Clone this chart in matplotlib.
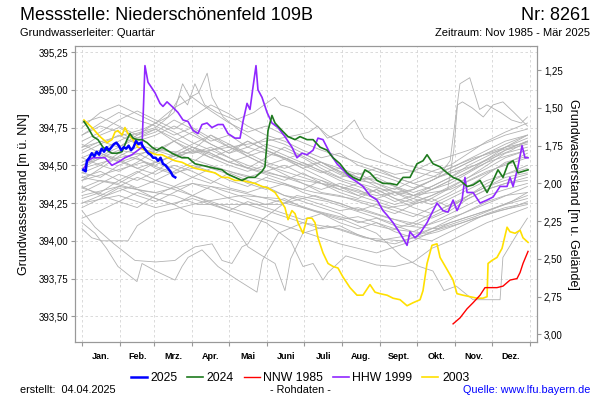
import matplotlib
matplotlib.use('Agg')
import matplotlib.pyplot as plt
from matplotlib.ticker import FixedLocator, FuncFormatter, NullFormatter

plt.rcParams['font.family'] = ['Liberation Sans', 'DejaVu Sans']

# ground level of the well [m NN], used for the right axis
ground = 396.38

months = ['Jan.', 'Feb.', 'Mrz.', 'Apr.', 'Mai', 'Juni', 'Juli', 'Aug.', 'Sept.', 'Okt.', 'Nov.', 'Dez.']
month_starts = [0, 31, 59, 90, 120, 151, 181, 212, 243, 273, 304, 334, 365]

# ---- highlighted years (day of year, level m NN) -------------------------
d2025 = [1, 3, 4, 6, 8, 10, 12, 14, 16, 18, 20, 22, 24, 26, 28, 30, 32, 34, 36, 38,
         40, 42, 44, 46, 48, 50, 52, 54, 56, 58, 60, 62, 64, 66, 68, 70, 72, 74, 76]
v2025 = [394.47, 394.46, 394.53, 394.55, 394.58, 394.56, 394.59, 394.57, 394.61, 394.59,
         394.62, 394.60, 394.62, 394.64, 394.65, 394.63, 394.60, 394.62, 394.61, 394.63,
         394.60, 394.62, 394.66, 394.64, 394.65, 394.62, 394.60, 394.58, 394.57, 394.55,
         394.55, 394.53, 394.55, 394.51, 394.50, 394.48, 394.46, 394.43, 394.42]

d2024 = [1.6, 4.9, 9, 13, 17.1, 20.4, 24.4, 28.5, 32.6, 36.7, 39.1, 41.6, 44.8, 48.9, 53,
         57, 61.1, 65.2, 69.3, 73.3, 75.8, 81.5, 86.4, 92.1, 97.8, 102.7, 108.4, 114.1, 119,
         124.7, 130.4, 135.3, 141, 146.7, 149.1, 151.6, 154.8, 157.3, 163, 167.9, 173.6,
         177.7, 183.4, 188.3, 194, 199.7, 204.6, 210.3, 216, 220.9, 226.6, 230.6, 234.7,
         240.4, 245.3, 251, 256.7, 261.6, 267.3, 273, 277.9, 281.2, 286.1, 291.8, 297.5,
         302.4, 308.1, 313.8, 318.7, 324.4, 330.1, 335, 339, 343.1, 347.2, 351.3, 355.3,
         359.4, 363.5]
v2024 = [394.79, 394.75, 394.69, 394.67, 394.62, 394.60, 394.58, 394.58, 394.59, 394.67,
         394.71, 394.68, 394.67, 394.67, 394.65, 394.62, 394.60, 394.62, 394.60, 394.58,
         394.57, 394.55, 394.55, 394.51, 394.50, 394.49, 394.48, 394.47, 394.44, 394.42,
         394.40, 394.42, 394.42, 394.46, 394.49, 394.73, 394.83, 394.78, 394.73, 394.69,
         394.67, 394.69, 394.67, 394.67, 394.62, 394.60, 394.55, 394.51, 394.45, 394.42,
         394.40, 394.47, 394.45, 394.40, 394.38, 394.38, 394.37, 394.42, 394.42, 394.51,
         394.53, 394.57, 394.51, 394.49, 394.45, 394.42, 394.40, 394.36, 394.37, 394.40,
         394.32, 394.40, 394.47, 394.42, 394.51, 394.53, 394.45, 394.46, 394.47]

d1985 = [302.4, 308.1, 313.8, 318.7, 324.4, 328.4, 332.5, 338.2, 343.1, 348.8, 354.5,
         357, 359.4, 363.5]
v1985 = [393.45, 393.49, 393.55, 393.59, 393.64, 393.69, 393.69, 393.69, 393.70, 393.74,
         393.75, 393.79, 393.85, 393.93]

d1999 = [1.6, 4.9, 9, 18.7, 24.4, 29.3, 35, 40.7, 45.6, 48.9, 51.3, 53.8, 59.5, 63.6, 66,
         69.3, 73.3, 78.2, 82.3, 86.4, 90.5, 94.5, 97.8, 101.9, 105.9, 110.8, 114.9, 119,
         124.7, 128.8, 131.2, 134.5, 136.9, 139.4, 141.8, 143.4, 146.7, 150.8, 154.8, 159.7,
         165.4, 171.1, 175.2, 179.3, 183.4, 188.3, 192.3, 196.4, 202.1, 207.8, 212.7, 218.4,
         224.1, 229, 234.7, 240.4, 245.3, 248.6, 253.5, 259.2, 264.9, 267.3, 271.4, 275.5,
         281.2, 286.1, 289.3, 294.2, 298.3, 302.4, 305.6, 309.7, 312.1, 313.8, 318.7, 324.4,
         330.1, 335, 340.7, 346.4, 348.8, 351.3, 355.3, 358.6, 361, 363.5]
v1999 = [394.48, 394.53, 394.55, 394.55, 394.50, 394.52, 394.55, 394.57, 394.60, 394.62,
         395.16, 395.05, 394.98, 394.91, 394.89, 394.92, 394.89, 394.85, 394.80, 394.79,
         394.73, 394.71, 394.77, 394.78, 394.75, 394.77, 394.77, 394.71, 394.68, 394.68,
         394.79, 394.91, 394.87, 395.02, 395.16, 395.00, 394.95, 394.85, 394.78, 394.75,
         394.69, 394.62, 394.55, 394.58, 394.57, 394.60, 394.68, 394.67, 394.58, 394.51,
         394.47, 394.42, 394.39, 394.36, 394.30, 394.27, 394.20, 394.17, 394.12, 394.05,
         393.97, 394.06, 394.02, 394.05, 394.12, 394.20, 394.25, 394.20, 394.19, 394.27,
         394.20, 394.27, 394.42, 394.32, 394.32, 394.25, 394.27, 394.29, 394.36, 394.36,
         394.42, 394.36, 394.49, 394.63, 394.55, 394.55]

d2003 = [1.6, 8.1, 14.7, 20.4, 24.4, 26.9, 29.3, 32.6, 35, 37.5, 41.6, 45.6, 51.3, 57,
         61.1, 65.2, 70.1, 75.8, 81.5, 86.4, 92.1, 97.8, 102.7, 108.4, 114.1, 119, 124.7,
         130.4, 135.3, 141, 146.7, 151.6, 157.3, 161.4, 165.4, 167.9, 171.1, 173.6, 176,
         180.1, 183.4, 187.4, 189.9, 192.3, 196.4, 200.5, 204.6, 208.6, 212.7, 218.4, 224.1,
         229, 234.7, 238.8, 242.9, 248.6, 253.5, 259.2, 264.9, 269.8, 275.5, 277.9, 281.2,
         285.2, 289.3, 291.8, 297.5, 302.4, 305.6, 310.5, 316.2, 321.9, 326.8, 330.1, 330.9,
         334.1, 338.2, 342.3, 346.4, 348.8, 352.9, 357, 359.4, 363.5]
v2003 = [394.80, 394.75, 394.69, 394.65, 394.67, 394.72, 394.73, 394.70, 394.75, 394.71,
         394.67, 394.62, 394.60, 394.58, 394.57, 394.57, 394.55, 394.53, 394.52, 394.50,
         394.48, 394.47, 394.46, 394.45, 394.42, 394.42, 394.40, 394.40, 394.39, 394.38,
         394.36, 394.35, 394.32, 394.27, 394.22, 394.14, 394.20, 394.18, 394.12, 394.05,
         394.15, 394.15, 394.12, 394.02, 393.92, 393.85, 393.83, 393.82, 393.76, 393.69,
         393.64, 393.64, 393.71, 393.66, 393.65, 393.64, 393.62, 393.61, 393.57, 393.59,
         393.61, 393.67, 393.85, 393.97, 393.98, 393.89, 393.81, 393.74, 393.65, 393.64,
         393.63, 393.62, 393.62, 393.63, 393.85, 393.87, 393.89, 393.95, 394.09, 394.06,
         394.05, 394.07, 394.02, 393.99]

# ---- other years (grey), common 15-day grid -----------------------------
grid_days = [0, 15, 30, 45, 60, 75, 90, 105, 120, 135, 150, 165, 180, 195, 210, 225,
             240, 255, 270, 285, 300, 315, 330, 345, 363]
grey_years = [
    [394.62, 394.70, 394.75, 394.68, 394.72, 394.80, 394.74, 394.66, 394.70, 394.62, 394.58, 394.55, 394.50, 394.52, 394.45, 394.40, 394.42, 394.36, 394.30, 394.34, 394.38, 394.45, 394.52, 394.60, 394.66],
    [394.48, 394.55, 394.60, 394.58, 394.52, 394.56, 394.62, 394.55, 394.50, 394.46, 394.50, 394.44, 394.38, 394.32, 394.30, 394.26, 394.22, 394.18, 394.24, 394.28, 394.22, 394.30, 394.36, 394.42, 394.45],
    [394.70, 394.78, 394.85, 394.80, 394.76, 394.70, 394.75, 394.68, 394.62, 394.58, 394.64, 394.60, 394.55, 394.48, 394.42, 394.45, 394.38, 394.34, 394.40, 394.46, 394.50, 394.58, 394.66, 394.72, 394.78],
    [394.35, 394.40, 394.38, 394.45, 394.52, 394.48, 394.42, 394.38, 394.45, 394.40, 394.35, 394.30, 394.26, 394.22, 394.18, 394.12, 394.15, 394.10, 394.06, 394.12, 394.18, 394.24, 394.30, 394.34, 394.38],
    [394.55, 394.50, 394.46, 394.52, 394.60, 394.66, 394.58, 394.62, 394.55, 394.48, 394.44, 394.40, 394.45, 394.38, 394.32, 394.28, 394.34, 394.28, 394.25, 394.30, 394.35, 394.42, 394.48, 394.55, 394.60],
    [394.22, 394.28, 394.35, 394.30, 394.26, 394.32, 394.38, 394.34, 394.28, 394.24, 394.20, 394.16, 394.12, 394.08, 394.10, 394.04, 394.00, 393.98, 394.02, 394.08, 394.14, 394.20, 394.26, 394.30, 394.32],
    [394.75, 394.85, 394.90, 394.84, 394.78, 394.88, 394.95, 394.86, 394.78, 394.72, 394.76, 394.70, 394.65, 394.60, 394.56, 394.52, 394.48, 394.44, 394.46, 394.52, 394.56, 394.60, 394.65, 394.70, 394.74],
    [394.45, 394.42, 394.50, 394.55, 394.48, 394.44, 394.50, 394.46, 394.40, 394.36, 394.42, 394.38, 394.34, 394.40, 394.36, 394.30, 394.26, 394.22, 394.18, 394.15, 394.20, 394.28, 394.34, 394.38, 394.42],
    [394.60, 394.66, 394.62, 394.70, 394.78, 394.72, 394.65, 394.60, 394.64, 394.58, 394.52, 394.48, 394.52, 394.46, 394.40, 394.36, 394.32, 394.35, 394.30, 394.26, 394.32, 394.40, 394.46, 394.50, 394.55],
    [394.15, 394.20, 394.26, 394.22, 394.30, 394.36, 394.30, 394.25, 394.20, 394.26, 394.22, 394.18, 394.14, 394.18, 394.12, 394.08, 394.12, 394.06, 394.02, 394.00, 394.06, 394.12, 394.18, 394.22, 394.25],
    [394.40, 394.48, 394.56, 394.62, 394.58, 394.66, 394.72, 394.64, 394.58, 394.66, 394.60, 394.55, 394.50, 394.45, 394.48, 394.42, 394.36, 394.30, 394.34, 394.40, 394.46, 394.52, 394.58, 394.62, 394.65],
    [394.52, 394.58, 394.54, 394.48, 394.44, 394.50, 394.46, 394.40, 394.35, 394.32, 394.36, 394.30, 394.28, 394.24, 394.20, 394.22, 394.18, 394.14, 394.10, 394.16, 394.22, 394.30, 394.38, 394.44, 394.50],
    [394.66, 394.72, 394.80, 394.86, 394.80, 394.74, 394.82, 394.90, 394.84, 394.76, 394.70, 394.66, 394.60, 394.55, 394.58, 394.50, 394.46, 394.42, 394.38, 394.42, 394.48, 394.54, 394.60, 394.66, 394.70],
    [394.28, 394.32, 394.40, 394.46, 394.40, 394.36, 394.42, 394.48, 394.44, 394.38, 394.34, 394.38, 394.32, 394.28, 394.25, 394.20, 394.24, 394.20, 394.16, 394.22, 394.28, 394.34, 394.40, 394.44, 394.48],
    [394.58, 394.64, 394.70, 394.64, 394.60, 394.56, 394.62, 394.58, 394.52, 394.48, 394.55, 394.62, 394.56, 394.50, 394.44, 394.40, 394.38, 394.32, 394.28, 394.24, 394.30, 394.36, 394.44, 394.52, 394.56],
    [394.42, 394.46, 394.40, 394.35, 394.40, 394.46, 394.52, 394.60, 394.55, 394.50, 394.46, 394.42, 394.38, 394.34, 394.38, 394.34, 394.28, 394.24, 394.28, 394.34, 394.40, 394.46, 394.52, 394.56, 394.60],
    [394.78, 394.82, 394.76, 394.70, 394.74, 394.68, 394.62, 394.58, 394.52, 394.56, 394.50, 394.46, 394.42, 394.38, 394.34, 394.30, 394.34, 394.28, 394.22, 394.18, 394.24, 394.30, 394.36, 394.40, 394.44],
    [394.32, 394.38, 394.44, 394.40, 394.46, 394.54, 394.60, 394.70, 394.64, 394.56, 394.50, 394.54, 394.48, 394.42, 394.36, 394.32, 394.28, 394.32, 394.26, 394.30, 394.36, 394.42, 394.50, 394.58, 394.62],
    [394.50, 394.56, 394.62, 394.68, 394.74, 394.66, 394.60, 394.55, 394.60, 394.66, 394.60, 394.54, 394.58, 394.52, 394.46, 394.42, 394.40, 394.36, 394.32, 394.36, 394.42, 394.48, 394.54, 394.60, 394.64],
    [394.25, 394.30, 394.36, 394.42, 394.38, 394.34, 394.30, 394.36, 394.32, 394.28, 394.24, 394.28, 394.22, 394.18, 394.14, 394.16, 394.12, 394.08, 394.12, 394.18, 394.24, 394.28, 394.34, 394.38, 394.40],
    [394.64, 394.58, 394.52, 394.56, 394.62, 394.58, 394.54, 394.50, 394.46, 394.42, 394.46, 394.50, 394.44, 394.40, 394.34, 394.38, 394.32, 394.26, 394.30, 394.36, 394.42, 394.50, 394.56, 394.62, 394.68],
    [394.45, 394.50, 394.58, 394.54, 394.50, 394.58, 394.64, 394.70, 394.62, 394.56, 394.60, 394.55, 394.48, 394.52, 394.46, 394.40, 394.44, 394.40, 394.35, 394.40, 394.46, 394.52, 394.58, 394.64, 394.70],
    [394.36, 394.30, 394.26, 394.32, 394.28, 394.24, 394.30, 394.26, 394.22, 394.18, 394.14, 394.10, 394.06, 394.02, 393.98, 393.95, 393.92, 393.96, 394.00, 394.06, 394.12, 394.16, 394.20, 394.24, 394.28],
    [394.70, 394.76, 394.72, 394.66, 394.70, 394.76, 394.70, 394.64, 394.58, 394.62, 394.68, 394.64, 394.58, 394.52, 394.48, 394.44, 394.48, 394.42, 394.38, 394.34, 394.40, 394.46, 394.54, 394.62, 394.70],
]

# grey years that need their own days (peaks, lows, data gaps)
grey_extra = [
    ([0, 20, 45, 70, 95, 120, 150, 180, 210, 240, 270, 290, 300, 305, 308, 316, 319, 324, 330, 341, 350, 358, 363],
     [394.50, 394.56, 394.48, 394.55, 394.60, 394.52, 394.45, 394.40, 394.36, 394.30, 394.34, 394.42, 394.53, 394.85, 395.04, 395.08, 395.00, 394.87, 394.90, 394.85, 394.80, 394.78, 394.82]),
    ([0, 25, 50, 75, 100, 130, 160, 190, 220, 250, 280, 298, 303, 306, 310, 318, 327, 335, 343, 352, 363],
     [394.40, 394.46, 394.52, 394.45, 394.50, 394.44, 394.38, 394.32, 394.28, 394.22, 394.26, 394.34, 394.60, 394.90, 394.92, 394.88, 394.82, 394.90, 394.92, 394.85, 394.76]),
    ([0, 20, 40, 60, 75, 82, 88, 95, 102, 106, 115, 130, 150, 170, 190, 215, 240, 270, 300, 330, 363],
     [394.55, 394.62, 394.70, 394.75, 394.85, 395.04, 394.95, 394.98, 395.11, 394.95, 394.82, 394.72, 394.62, 394.55, 394.48, 394.40, 394.35, 394.30, 394.34, 394.45, 394.58]),
    ([0, 25, 50, 70, 80, 86, 92, 100, 110, 125, 140, 157, 162, 170, 180, 200, 230, 260, 290, 320, 350, 363],
     [394.62, 394.68, 394.74, 394.82, 394.96, 394.90, 395.04, 394.90, 394.85, 394.80, 394.85, 394.95, 394.90, 394.88, 394.84, 394.70, 394.55, 394.48, 394.42, 394.50, 394.60, 394.66]),
    ([0, 30, 60, 90, 120, 150, 175, 185, 192, 200, 212, 222, 230, 245, 265, 290, 320, 350, 363],
     [394.48, 394.55, 394.60, 394.58, 394.62, 394.66, 394.70, 394.72, 394.76, 394.68, 394.72, 394.80, 394.68, 394.58, 394.50, 394.45, 394.55, 394.62, 394.66]),
    ([0, 10.6, 20, 29.3, 44.8, 48.9, 60, 75.8, 81.5, 86.4, 97.8, 110.8, 125, 142.6, 147, 160, 180, 210, 240, 270, 300, 330, 363],
     [394.12, 394.05, 393.95, 393.83, 393.73, 393.85, 393.80, 393.74, 393.83, 393.89, 393.94, 393.83, 393.75, 393.66, 393.87, 394.05, 394.12, 394.08, 394.00, 394.04, 394.12, 394.20, 394.30]),
    ([0, 10.6, 26, 43.2, 60, 75.8, 83.9, 92.1, 106, 114.1, 122.2, 130.4, 135.3, 146.7, 165, 190, 220, 250, 280, 310, 340, 363],
     [394.20, 394.09, 393.98, 393.87, 393.86, 393.87, 393.92, 393.96, 393.98, 393.87, 393.85, 393.96, 393.98, 394.14, 394.25, 394.30, 394.22, 394.15, 394.10, 394.18, 394.28, 394.36]),
    ([0, 20, 40, 60, 75, 89.6, 105, 122.2, 135.3, 147, 157.3, 165.4, 170, 180, 200, 230, 260, 290, 320, 350, 363],
     [394.35, 394.30, 394.36, 394.28, 394.24, 394.18, 394.16, 394.12, 393.96, 393.90, 393.85, 393.67, 393.88, 394.05, 394.10, 394.02, 394.00, 394.06, 394.15, 394.22, 394.26]),
    ([0, 25, 50, 75, 94.5, 163, 175, 200, 230, 260, 290, 320, 350, 363],
     [394.42, 394.38, 394.33, 394.30, 394.24, 394.24, 394.30, 394.26, 394.18, 394.10, 394.08, 394.16, 394.26, 394.32]),
    ([0, 8, 16.3, 37.5, 45, 60, 80, 100, 130, 160, 190, 220, 250, 280, 310, 340, 363],
     [394.08, 394.02, 394.00, 394.00, 394.10, 394.18, 394.22, 394.26, 394.30, 394.28, 394.20, 394.14, 394.08, 394.05, 394.12, 394.20, 394.24]),
    ([0, 30, 60, 90, 120, 150, 180, 210, 240, 260, 275, 286, 295, 305, 318.7, 340.7, 343, 355, 363],
     [394.30, 394.36, 394.32, 394.38, 394.34, 394.28, 394.22, 394.15, 394.05, 393.90, 393.83, 393.80, 393.67, 393.70, 393.61, 393.61, 393.89, 394.05, 394.15]),
    ([0, 30, 60, 90, 120, 150, 170, 180.1, 188.3, 196.4, 200.5, 215, 240, 255, 270, 285, 300, 330, 363],
     [394.25, 394.30, 394.22, 394.28, 394.20, 394.12, 394.00, 393.83, 393.85, 393.74, 393.79, 393.90, 393.84, 393.83, 393.86, 393.95, 394.00, 394.12, 394.22]),
]

yticks = [393.50, 393.75, 394.00, 394.25, 394.50, 394.75, 395.00, 395.25]
yticks_right = [1.25, 1.50, 1.75, 2.00, 2.25, 2.50, 2.75, 3.00]


def comma(v, pos=None):
    return f'{v:.2f}'.replace('.', ',')


fig = plt.figure(figsize=(6, 4), dpi=100)
ax = fig.add_axes([75 / 600, 1 - 342 / 400, 462 / 600, 296 / 400])

grey = '#b2b2b2'
for vals in grey_years:
    ax.plot(grid_days, vals, color=grey, lw=0.6)
for dd, vv in grey_extra:
    ax.plot(dd, vv, color=grey, lw=0.6)

l2003, = ax.plot(d2003, v2003, color='#ffe000', lw=1.2, label='2003')
l1999, = ax.plot(d1999, v1999, color='#9028ff', lw=1.2, label='HHW 1999')
l1985, = ax.plot(d1985, v1985, color='#ff0000', lw=1.0, label='NNW 1985')
l2024, = ax.plot(d2024, v2024, color='#1e7a1e', lw=1.2, label='2024')
l2025, = ax.plot(d2025, v2025, color='#0000ff', lw=1.8, label='2025')

ax.set_xlim(-5.7, 370.8)
ax.set_ylim(393.33, 395.29)

ax.yaxis.set_major_locator(FixedLocator(yticks))
ax.yaxis.set_major_formatter(FuncFormatter(comma))
ax.xaxis.set_major_locator(FixedLocator(month_starts))
ax.xaxis.set_major_formatter(NullFormatter())
mids = [(month_starts[i] + month_starts[i + 1]) / 2 for i in range(12)]
ax.xaxis.set_minor_locator(FixedLocator(mids))
ax.set_xticklabels(months, minor=True)
ax.tick_params(axis='x', which='minor', length=0, pad=7, labelsize=6.5)
for t in ax.get_xticklabels(minor=True):
    t.set_fontweight('bold')
ax.tick_params(axis='x', which='major', length=3, color='#999999')
ax.tick_params(axis='y', length=3, color='#999999', labelsize=7, pad=2)

ax.grid(True, which='major', color='#d4d4d4', lw=0.6, ls=(0, (3, 3)))
for s in ax.spines.values():
    s.set_color('#999999')
    s.set_linewidth(0.8)
ax.set_ylabel('Grundwasserstand [m ü. NN]', fontsize=9, labelpad=6)

ax2 = ax.twinx()
ax2.set_ylim(ground - 393.33, ground - 395.29)
ax2.yaxis.set_major_locator(FixedLocator(yticks_right))
ax2.yaxis.set_major_formatter(FuncFormatter(comma))
ax2.tick_params(axis='y', length=3, color='#999999', labelsize=7, pad=2)
for s in ax2.spines.values():
    s.set_color('#999999')
    s.set_linewidth(0.8)
ax2.set_ylabel('Grundwasserstand [m u. Gelände]', fontsize=9, rotation=-90, labelpad=12)

fig.text(20 / 600, 1 - 15 / 400, 'Messstelle: Niederschönenfeld 109B', fontsize=13, va='center')
fig.text(590 / 600, 1 - 15 / 400, 'Nr: 8261', fontsize=13, va='center', ha='right')
fig.text(20 / 600, 1 - 33 / 400, 'Grundwasserleiter: Quartär', fontsize=8, va='center')
fig.text(590 / 600, 1 - 33 / 400, 'Zeitraum: Nov 1985 - Mär 2025', fontsize=8, va='center', ha='right')

fig.legend(handles=[l2025, l2024, l1985, l1999, l2003], loc='center',
           bbox_to_anchor=(0.5, 1 - 378 / 400), ncol=5, frameon=False, fontsize=8.8,
           handlelength=1.3, handletextpad=0.3, columnspacing=0.8)

fig.text(20 / 600, 1 - 390 / 400, 'erstellt:  04.04.2025', fontsize=7.8, va='center')
fig.text(300 / 600, 1 - 390 / 400, '- Rohdaten -', fontsize=7.8, va='center', ha='center')
fig.text(590 / 600, 1 - 390 / 400, 'Quelle: www.lfu.bayern.de', fontsize=7.8, va='center',
         ha='right', color='#0000ff')

fig.savefig('out.png', dpi=100)
